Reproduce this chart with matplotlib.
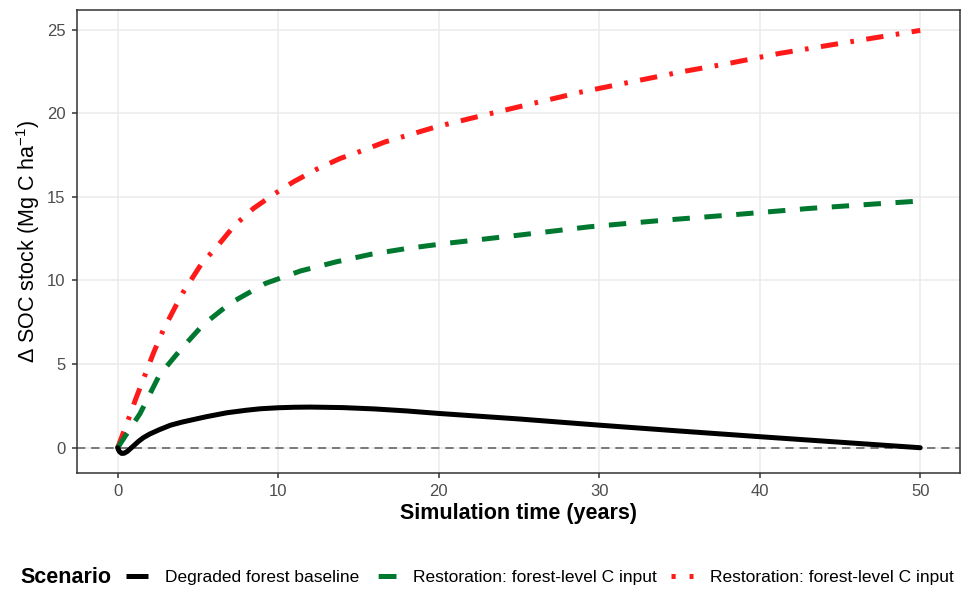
import matplotlib
matplotlib.use("Agg")
import matplotlib.pyplot as plt
from matplotlib.lines import Line2D

plt.rcParams['font.family'] = ['Liberation Sans', 'DejaVu Sans']
plt.rcParams['mathtext.fontset'] = 'custom'
plt.rcParams['mathtext.rm'] = 'Liberation Sans'
plt.rcParams['mathtext.it'] = 'Liberation Sans:italic'
plt.rcParams['lines.scale_dashes'] = False

# ---- data ----
labels = ["Degraded forest baseline",
          "Restoration: forest-level C input",
          "Restoration: forest-level C input"]

t_base = [0, 0.1, 0.25, 0.4, 0.6, 0.8, 1.0, 1.3, 1.6, 2.0, 2.6, 3.3, 4.0, 4.7, 5.5, 6.8,
          8.0, 8.9, 10, 11, 12, 14, 16, 18, 20, 25, 30, 35, 40, 45, 50]
soc_base = [0, -0.22, -0.34, -0.33, -0.22, -0.05, 0.12, 0.38, 0.6, 0.82, 1.08, 1.35, 1.53,
            1.68, 1.85, 2.09, 2.24, 2.33, 2.39, 2.42, 2.43, 2.4, 2.32, 2.2, 2.05, 1.72,
            1.35, 1.0, 0.66, 0.33, 0.0]

t_green = [0, 1.4, 2.6, 3.9, 5.3, 7.0, 9.2, 11.4, 13.6, 15.8, 18.0, 20.4, 25.0, 29.4,
           34.0, 38.5, 43.0, 47.6, 50]
soc_green = [0, 2.05, 4.34, 5.84, 7.33, 8.63, 9.82, 10.57, 11.11, 11.57, 11.91, 12.21,
             12.71, 13.21, 13.6, 13.94, 14.3, 14.6, 14.75]

t_red = [0, 0.77, 1.14, 1.7, 2.26, 2.84, 3.61, 4.09, 5.23, 6.17, 7.27, 8.45, 9.74, 10.94,
         12.4, 13.85, 15.3, 16.65, 19.83, 22.8, 25.86, 28.9, 32.0, 35.1, 38.2, 41.2,
         44.3, 47.5, 50]
soc_red = [0, 1.95, 2.95, 4.34, 5.73, 7.03, 8.46, 9.31, 11.01, 12.0, 13.28, 14.3, 15.16,
           15.89, 16.65, 17.29, 17.78, 18.28, 19.18, 19.88, 20.58, 21.27, 21.87, 22.47,
           23.0, 23.57, 24.06, 24.56, 24.95]

x_ticks = [0, 10, 20, 30, 40, 50]
y_ticks = [0, 5, 10, 15, 20, 25]

# ---- styles ----
C_BLACK = '#000000'
C_GREEN = '#00782F'
C_RED = '#FF1A1A'
LW = 3.6
green_dash = (0, (12.5, 10.5))
red_dash = (0, (12.5, 9.0, 2.6, 9.0))

fig = plt.figure(figsize=(9.76, 5.95), dpi=100)
ax = fig.add_axes([0.0786, 0.2045, 0.9047, 0.7787])

ax.set_xlim(-2.55, 52.46)
ax.set_ylim(-1.53, 26.17)

ax.grid(True, color='#EBEBEB', linewidth=1.1, zorder=0)
ax.set_axisbelow(True)
ax.axhline(0, color='#666666', linewidth=1.2, linestyle=(0, (6, 4.2)), zorder=1)

ax.plot(t_red, soc_red, color=C_RED, linewidth=LW, linestyle=red_dash,
        dash_capstyle='butt', zorder=3)
ax.plot(t_green, soc_green, color=C_GREEN, linewidth=LW, linestyle=green_dash,
        dash_capstyle='butt', zorder=3)
ax.plot(t_base, soc_base, color=C_BLACK, linewidth=LW, solid_capstyle='round',
        solid_joinstyle='round', zorder=4)

ax.set_xticks(x_ticks)
ax.set_yticks(y_ticks)
ax.tick_params(axis='both', colors='#333333', length=3.5, width=1.1,
               labelsize=12, labelcolor='#4D4D4D', pad=4.5)
for s in ax.spines.values():
    s.set_color('#333333')
    s.set_linewidth(1.1)

ax.set_xlabel('Simulation time (years)', fontsize=15.5, fontweight='bold', labelpad=2.7)
ax.set_ylabel('Δ SOC stock (Mg C ha$^{-1}$)', fontsize=15.5, labelpad=3.5)

# ---- legend at bottom ----
fig.text(20 / 976, 0.030, 'Scenario', fontsize=15.5, fontweight='bold',
         ha='left', va='center')
handles = [
    Line2D([], [], color=C_BLACK, linewidth=LW, solid_capstyle='butt'),
    Line2D([], [], color=C_GREEN, linewidth=LW, linestyle=(13, (13, 3))),
    Line2D([], [], color=C_RED, linewidth=LW, linestyle=(0, (3, 10))),
]
fig.legend(handles, labels, loc='center left', bbox_to_anchor=(126 / 976, 0.030),
           ncol=3, frameon=False, fontsize=12.5, handlelength=1.27,
           handletextpad=1.0, columnspacing=0.8, borderaxespad=0, borderpad=0)

fig.savefig('out.png', dpi=100)
